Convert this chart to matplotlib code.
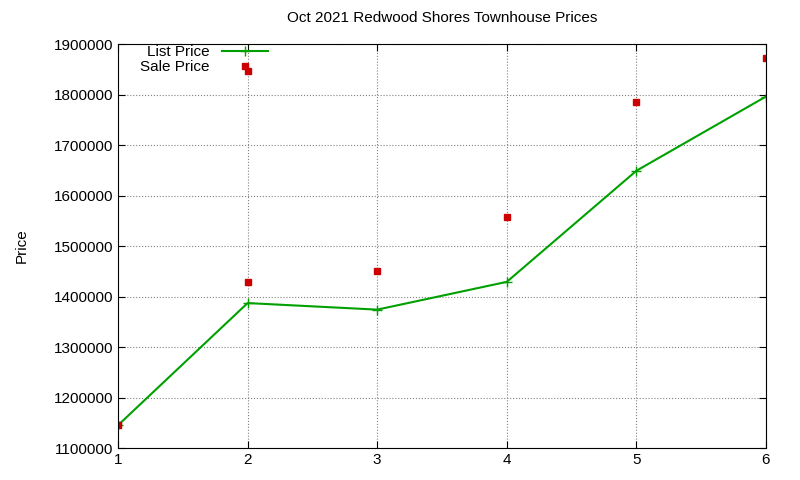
import matplotlib
matplotlib.use('Agg')
import matplotlib.pyplot as plt

list_x = [1, 2, 3, 4, 5, 6]
list_price = [1145000, 1387000, 1374000, 1429000, 1649000, 1796000]
sale_x = [1, 2, 2, 3, 4, 5, 6]
sale_price = [1145000, 1428000, 1846000, 1451000, 1558000, 1786000, 1873000]

plt.rcParams['font.family'] = ['Liberation Sans', 'DejaVu Sans']

fig = plt.figure(figsize=(8, 4.8), dpi=100)
ax = fig.add_axes([118/800, 1 - 448/480, (766-118)/800, (448-44)/480])

ax.plot(list_x, list_price, color='#00a000', marker='+', markersize=7, linewidth=1.5, label='List Price')
ax.plot(sale_x, sale_price, linestyle='none', marker='s', markersize=5, color='#cc0000', label='Sale Price')

ax.set_xlim(1, 6)
ax.set_ylim(1100000, 1900000)
ax.set_xticks(range(1, 7))
ax.set_yticks(range(1100000, 1900001, 100000))
ax.ticklabel_format(style='plain', axis='y')
ax.tick_params(labelsize=11, direction='in', length=5, top=True, right=True)
ax.grid(True, linestyle=':', color='#808080', linewidth=0.8)
ax.set_ylabel('Price', fontsize=11, labelpad=18)
ax.set_title('Oct 2021 Redwood Shores Townhouse Prices', fontsize=11, pad=16)

leg = ax.legend(loc='upper left', frameon=False, markerfirst=False, fontsize=11,
                handlelength=3, borderaxespad=0.2, labelspacing=0.05, bbox_to_anchor=(0.02, 1.02))
for t in leg.get_texts():
    t.set_ha('right')

fig.savefig('out.png')
